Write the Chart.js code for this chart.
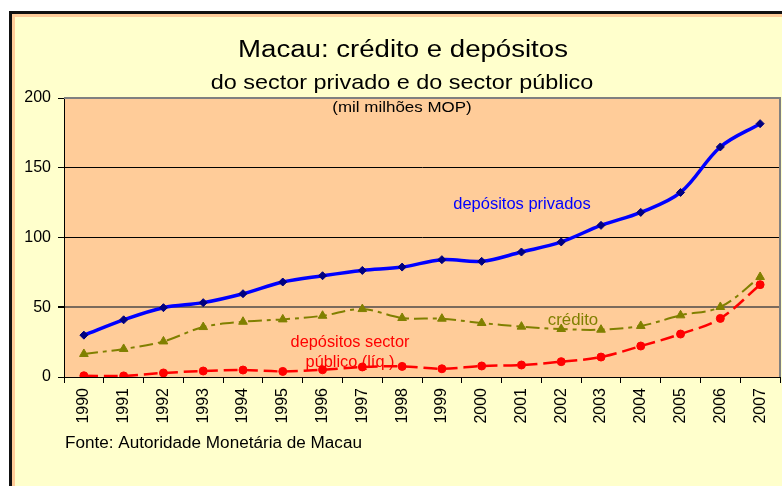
<!DOCTYPE html>
<html>
<head>
<meta charset="utf-8">
<script src="https://cdn.jsdelivr.net/npm/chart.js@4/dist/chart.umd.min.js"></script>
<style>
  html, body { margin: 0; padding: 0; background: #fff; }
  #wrap { width: 782px; height: 486px; }
</style>
</head>
<body>
<div id="wrap"><canvas id="lineChart" width="782" height="486"></canvas></div>
<script>
const years = ['1990','1991','1992','1993','1994','1995','1996','1997','1998',
               '1999','2000','2001','2002','2003','2004','2005','2006','2007'];
const depPrivados = [30, 41, 49.7, 53.3, 59.7, 68.1, 72.6, 76.4, 78.8,
                     84.1, 82.9, 89.6, 96.8, 108.7, 118, 132.3, 164.9, 181.6];
const credito = [16.5, 20.1, 25.5, 35.8, 39.6, 41.3, 43.9, 48.7, 42.3,
                 41.8, 38.7, 36.1, 34.4, 33.9, 36.6, 44.2, 50.2, 71.7];
const depPublico = [0.9, 0.8, 2.9, 4.3, 5.0, 4.0, 5.2, 7.2, 7.6,
                    5.9, 7.9, 8.6, 11, 14.3, 22.2, 30.8, 42, 66.2];

// draw a line of text, stretched horizontally
function stretchText(ctx, text, x, y, size, sx, color, align) {
    ctx.save();
    ctx.font = size + 'px "Liberation Sans", Arial, sans-serif';
    ctx.fillStyle = color;
    ctx.textBaseline = 'alphabetic';
    const w = ctx.measureText(text).width * sx;
    let left = x;
    if (align !== 'left') left = x - w / 2;
    ctx.translate(left, y);
    ctx.scale(sx, 1);
    ctx.textAlign = 'left';
    ctx.fillText(text, 0, 0);
    ctx.restore();
}

const framePlugin = {
    id: 'frame',
    beforeDraw(chart) {
        const ctx = chart.ctx;
        const a = chart.chartArea;
        ctx.save();
        ctx.fillStyle = '#ffffff';
        ctx.fillRect(0, 0, chart.width, chart.height);
        ctx.fillStyle = '#111111';
        ctx.fillRect(9, 11, chart.width, chart.height);
        ctx.fillStyle = '#FFCC99';
        ctx.fillRect(12, 14, chart.width, chart.height);
        ctx.fillStyle = '#FFFFCC';
        ctx.fillRect(15, 17, chart.width, chart.height);
        ctx.fillStyle = '#FFCC99';
        ctx.fillRect(a.left, a.top, a.right - a.left, a.bottom - a.top);
        ctx.restore();
    },
    beforeDatasetsDraw(chart) {
        const ctx = chart.ctx;
        const a = chart.chartArea;
        ctx.save();
        ctx.strokeStyle = '#808080';
        ctx.lineWidth = 2;
        ctx.beginPath();
        ctx.moveTo(a.left, a.top);
        ctx.lineTo(a.right, a.top);
        ctx.lineTo(a.right, a.bottom);
        ctx.stroke();
        ctx.restore();
        stretchText(ctx, 'depósitos privados', 522, 209, 16, 1.03, '#0000FF');
        stretchText(ctx, 'crédito', 573, 325, 16, 1.05, '#808000');
        stretchText(ctx, 'depósitos sector', 350, 347, 16, 1.02, '#FF0000');
        stretchText(ctx, 'público (líq.)', 350, 367, 16, 1.02, '#FF0000');
    },
    afterDraw(chart) {
        const ctx = chart.ctx;
        stretchText(ctx, 'Macau: crédito e depósitos', 403, 57, 23, 1.2, '#000');
        stretchText(ctx, 'do sector privado e do sector público', 402, 89, 21, 1.115, '#000');
        stretchText(ctx, '(mil milhões MOP)', 402, 112, 15, 1.13, '#000');
        stretchText(ctx, 'Fonte: Autoridade Monetária de Macau', 65, 448, 16, 1.07, '#000', 'left');
    }
};

const ctx = document.getElementById('lineChart').getContext('2d');
new Chart(ctx, {
    type: 'line',
    data: {
        labels: years,
        datasets: [{
            label: 'depósitos privados',
            data: depPrivados,
            borderColor: '#0000FF',
            borderWidth: 3.5,
            tension: 0.35,
            pointStyle: 'rectRot',
            pointRadius: 4,
            pointBackgroundColor: '#000080',
            pointBorderColor: '#000080',
            pointBorderWidth: 1,
            fill: false
        }, {
            label: 'crédito',
            data: credito,
            borderColor: '#808000',
            borderWidth: 2,
            borderDash: [14, 5, 4, 5],
            tension: 0.35,
            pointStyle: 'triangle',
            pointRadius: 5,
            pointBackgroundColor: '#808000',
            pointBorderColor: '#808000',
            pointBorderWidth: 1,
            fill: false
        }, {
            label: 'depósitos sector público (líq.)',
            data: depPublico,
            borderColor: '#FF0000',
            borderWidth: 2.5,
            borderDash: [14, 6],
            tension: 0.35,
            pointStyle: 'circle',
            pointRadius: 4,
            pointBackgroundColor: '#FF0000',
            pointBorderColor: '#FF0000',
            pointBorderWidth: 1,
            fill: false
        }]
    },
    options: {
        responsive: false,
        animation: false,
        layout: { autoPadding: false, padding: { left: 0, top: 98, right: 2, bottom: 59 } },
        plugins: {
            legend: { display: false },
            tooltip: { enabled: false }
        },
        scales: {
            x: {
                offset: true,
                grid: {
                    offset: true,
                    drawOnChartArea: false,
                    drawTicks: true,
                    tickLength: 6,
                    tickColor: '#000'
                },
                border: { display: true, color: '#000', width: 1 },
                ticks: {
                    minRotation: 90,
                    maxRotation: 90,
                    padding: 5,
                    color: '#000',
                    font: { family: '"Liberation Sans", Arial, sans-serif', size: 16 }
                },
                afterFit(scale) {
                    scale.height = 50;
                    scale.paddingLeft = 0;
                    scale.paddingRight = 0;
                }
            },
            y: {
                min: 0,
                max: 200,
                ticks: {
                    stepSize: 50,
                    padding: 7,
                    color: '#000',
                    font: { family: '"Liberation Sans", Arial, sans-serif', size: 16 }
                },
                grid: {
                    color: (c) => c.tick.value === 200 ? '#808080' : (c.tick.value === 50 ? '#7a6a5c' : '#000'),
                    lineWidth: (c) => c.tick.value === 50 ? 2 : 1,
                    tickLength: 6,
                    tickColor: '#000'
                },
                border: { display: true, color: '#000', width: 1 },
                afterFit(scale) { scale.width = 64; }
            }
        }
    },
    plugins: [framePlugin]
});
</script>
</body>
</html>
